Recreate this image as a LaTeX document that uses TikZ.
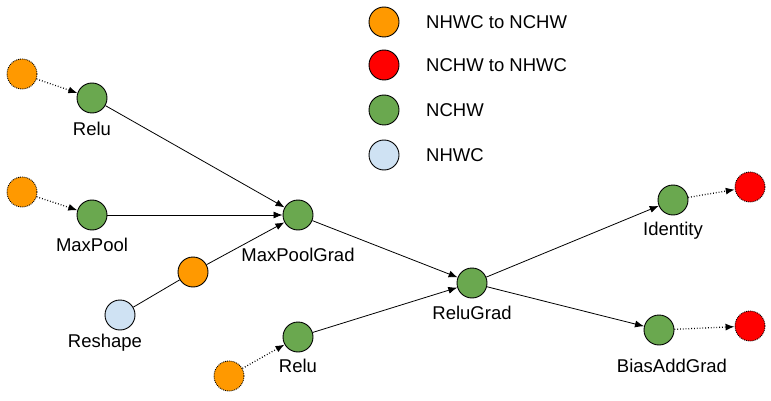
\documentclass[tikz,border=0pt]{standalone}
\usepackage{fontspec}
\setmainfont{Liberation Sans}
\usetikzlibrary{arrows.meta}
\definecolor{cor}{HTML}{FF9900}
\definecolor{cred}{HTML}{FF0000}
\definecolor{cgr}{HTML}{6AA84F}
\definecolor{cbl}{HTML}{CFE2F3}
\tikzset{
  op/.style={circle,draw=black,line width=0.9pt,minimum size=30pt,inner sep=0pt},
  conv/.style={op,densely dotted},
  lbl/.style={font=\fontsize{18.5}{22}\selectfont,inner sep=0pt},
  arr/.style={-{Latex[length=9pt,width=7pt]},line width=0.8pt},
  darr/.style={arr,dotted,line width=1.3pt},
}
\begin{document}
\begin{tikzpicture}[x=1pt,y=-1pt]
\useasboundingbox (0,0) rectangle (771,401);
% legend
\node[op,fill=cor] (l1) at (384,22) {};
\node[op,fill=cred] (l2) at (384,65) {};
\node[op,fill=cgr] (l3) at (384,110) {};
\node[op,fill=cbl] (l4) at (384,155) {};
\node[lbl,anchor=west] (t1) at (426,22) {NHWC to NCHW};
\node[lbl,anchor=west] (t2) at (426,65) {NCHW to NHWC};
\node[lbl,anchor=west] (t3) at (426,110) {NCHW};
\node[lbl,anchor=west] (t4) at (426,155) {NHWC};
% nodes
\node[conv,fill=cor] (o1) at (22,74) {};
\node[op,fill=cgr] (relu1) at (92,98) {};
\node[conv,fill=cor] (o2) at (22,192) {};
\node[op,fill=cgr] (maxpool) at (92,215) {};
\node[op,fill=cgr] (mpg) at (298,215) {};
\node[op,fill=cor] (om) at (193,272) {};
\node[op,fill=cbl] (reshape) at (120,315) {};
\node[op,fill=cgr] (relu2) at (298,337) {};
\node[conv,fill=cor] (o3) at (229,376) {};
\node[op,fill=cgr] (rg) at (472,283) {};
\node[op,fill=cgr] (id) at (673,200) {};
\node[conv,fill=cred] (r1) at (750,187) {};
\node[op,fill=cgr] (bag) at (659,330) {};
\node[conv,fill=cred] (r2) at (750,326) {};
% labels
\node[lbl] (lrelu1) at (92,129) {Relu};
\node[lbl] (lmaxpool) at (92,245) {MaxPool};
\node[lbl] (lmpg) at (298,255) {MaxPoolGrad};
\node[lbl] (lreshape) at (105,343) {Reshape};
\node[lbl] (lrelu2) at (298,366) {Relu};
\node[lbl] (lrg) at (472,313) {ReluGrad};
\node[lbl] (lid) at (673,231) {Identity};
\node[lbl] (lbag) at (672,366) {BiasAddGrad};
% edges
\draw[darr] (o1) -- (relu1);
\draw[darr] (o2) -- (maxpool);
\draw[darr] (o3) -- (relu2);
\draw[darr] (id) -- (r1);
\draw[darr] (bag) -- (r2);
\draw[arr] (relu1) -- (mpg);
\draw[arr] (maxpool) -- (mpg);
\draw[line width=0.8pt] (reshape) -- (om);
\draw[arr] (om) -- (mpg);
\draw[arr] (mpg) -- (rg);
\draw[arr] (relu2) -- (rg);
\draw[arr] (rg) -- (id);
\draw[arr] (rg) -- (bag);
\end{tikzpicture}
\end{document}
